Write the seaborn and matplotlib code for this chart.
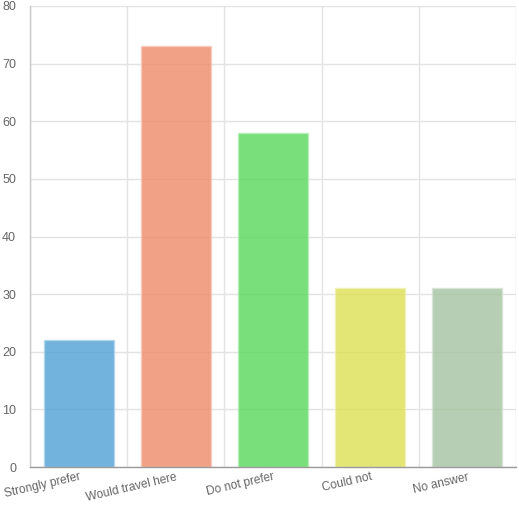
import numpy as np
import pandas as pd
import matplotlib
matplotlib.use("Agg")
import matplotlib.pyplot as plt
import matplotlib.colors as mcolors
import seaborn as sns

# data
categories = ["Strongly prefer", "Would travel here", "Do not prefer", "Could not", "No answer"]
values = [22, 73, 58, 31, 31]
# colours as they look on white
seen_colors = ["#72b3dd", "#f1a185", "#79e07a", "#e4e574", "#b6d0b4"]
y_ticks = [0, 10, 20, 30, 40, 50, 60, 70, 80]

ALPHA = 0.8

def base_color(hex_color, alpha=ALPHA):
    # colour that gives hex_color when painted with alpha over white
    rgb = np.array(mcolors.to_rgb(hex_color))
    return tuple(np.clip(1 - (1 - rgb) / alpha, 0, 1))

df = pd.DataFrame({"category": categories, "value": values})

sns.set_style("white")
plt.rcParams['font.family'] = ['Liberation Sans', 'DejaVu Sans']

fig = plt.figure(figsize=(5.19, 5.19), dpi=100)
ax = fig.add_axes([30 / 519, 52 / 519, 486 / 519, 461 / 519])

palette = [base_color(c) for c in seen_colors]
sns.barplot(data=df, x="category", y="value", hue="category", palette=palette,
            saturation=1, width=0.72, alpha=ALPHA, legend=False, ax=ax,
            zorder=2, linewidth=1)

# lighter border like the original
for patch, c in zip(ax.patches, seen_colors):
    rgb = np.array(mcolors.to_rgb(c))
    patch.set_edgecolor(tuple(1 - (1 - rgb) * 0.55))

ax.set_xlim(-0.5, len(categories) - 0.5)
ax.set_ylim(0, 80)
ax.set_yticks(y_ticks)
ax.set_xlabel("")
ax.set_ylabel("")

# gridlines between categories
ax.set_xticks(np.arange(-0.5, len(categories)), minor=True)
ax.grid(True, which="minor", axis="x", color="#e3e3e3", linewidth=1, zorder=0)
ax.grid(True, which="major", axis="y", color="#e3e3e3", linewidth=1, zorder=0)
ax.set_axisbelow(True)

ax.tick_params(axis="x", which="major", length=0, pad=3)
ax.tick_params(axis="x", which="minor", length=9, color="#e3e3e3", width=1)
ax.tick_params(axis="y", length=8, color="#e3e3e3", width=1, pad=2)
ax.set_xticks(range(len(categories)))
ax.set_xticklabels(categories, rotation=13, ha="right", rotation_mode="anchor",
                   fontsize=8.6, color="#666666")
for lbl in ax.get_yticklabels():
    lbl.set_fontsize(9)
    lbl.set_color("#666666")

for side in ["top", "right"]:
    ax.spines[side].set_visible(False)
ax.spines["left"].set_color("#c8c8c8")
ax.spines["bottom"].set_color("#9a9a9a")
ax.spines["left"].set_linewidth(1)
ax.spines["bottom"].set_linewidth(1)

fig.savefig("out.png", dpi=100)
